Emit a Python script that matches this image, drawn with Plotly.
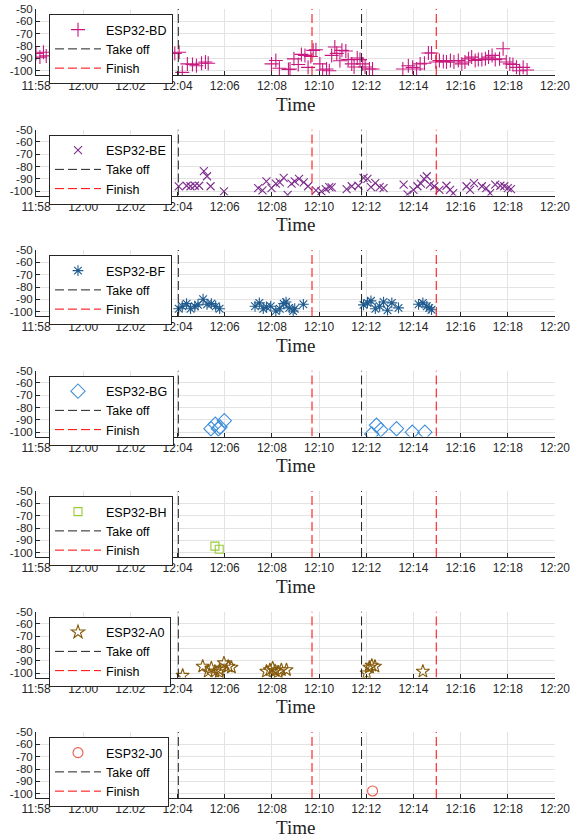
import plotly.graph_objects as go

DATE = "2023-05-10 "
T_START, T_END = "11:58:00", "12:20:00"
X_TICKS = ["11:58", "12:00", "12:02", "12:04", "12:06", "12:08", "12:10",
           "12:12", "12:14", "12:16", "12:18", "12:20"]
TAKEOFF_TIMES = ["12:04:02", "12:11:48"]
FINISH_TIMES = ["12:09:42", "12:14:58"]
Y_TICKS = [-100, -90, -80, -70, -60, -50]
Y_TICK_TEXT = ["-100", "-90", "-80", "-70", "-60", "-50"]
Y_MIN, Y_MAX = -103.5, -50

# ESP32-BD
bd_t = ["11:58:00", "11:58:10", "11:58:19", "11:58:26", "12:01:00",
        "12:03:53", "12:04:04", "12:04:12", "12:04:25", "12:04:38", "12:04:48",
        "12:05:01", "12:05:11", "12:05:18",
        "12:07:59", "12:08:10", "12:08:19", "12:08:42", "12:08:46", "12:08:56",
        "12:09:07", "12:09:15", "12:09:24", "12:09:32", "12:09:39", "12:09:45",
        "12:09:52", "12:10:02", "12:10:09", "12:10:19", "12:10:26", "12:10:32",
        "12:10:40", "12:10:45", "12:10:53", "12:10:58", "12:11:08", "12:11:14",
        "12:11:23", "12:11:29", "12:11:37", "12:11:44", "12:11:51", "12:11:57",
        "12:12:08", "12:12:16",
        "12:13:33", "12:13:47", "12:13:58", "12:14:08", "12:14:17", "12:14:28",
        "12:14:38", "12:14:46", "12:14:57", "12:15:06", "12:15:16", "12:15:24",
        "12:15:34", "12:15:43", "12:15:54", "12:16:03", "12:16:11", "12:16:20",
        "12:16:28", "12:16:37", "12:16:45", "12:16:54", "12:17:03", "12:17:11",
        "12:17:20", "12:17:28", "12:17:39", "12:17:48", "12:17:56", "12:18:05",
        "12:18:13", "12:18:22", "12:18:30", "12:18:39", "12:18:49"]
bd_v = [-86, -89, -85, -88, -102,
        -86, -85, -101.4, -94.5, -95, -96,
        -94, -93, -94,
        -94.5, -91.8, -98, -99, -98.6, -90.4,
        -95, -86.8, -87.6, -97.3, -88.5, -83.5,
        -83, -94.5, -99.4, -98.6, -100, -87.6,
        -80.8, -86, -92, -83.5, -84, -91,
        -94.5, -97, -89.7, -91, -94.5, -97,
        -98.6, -98.6,
        -98.6, -96, -97.3, -98.6, -94.5, -94,
        -85.7, -85.7, -93, -91.8, -92.6, -93,
        -91.8, -93, -91.8, -94.5, -93, -90.4,
        -89, -91.8, -91, -91, -90.4, -89,
        -87.6, -91, -90.4, -82.2, -93, -94.5,
        -95, -97.3, -100, -97.3, -99.4]

# ESP32-BE
be_t = ["12:04:03", "12:04:23", "12:04:33", "12:04:44", "12:04:55", "12:05:07",
        "12:05:15", "12:05:24", "12:05:58", "12:07:25", "12:07:36", "12:07:46",
        "12:07:59", "12:08:10", "12:08:20", "12:08:30", "12:08:40", "12:08:50",
        "12:08:58", "12:09:09", "12:09:21", "12:09:32", "12:09:52", "12:10:06",
        "12:10:17", "12:10:26", "12:10:32", "12:11:10", "12:11:23", "12:11:40",
        "12:11:53", "12:12:03", "12:12:12", "12:12:23", "12:12:34", "12:12:44",
        "12:13:35", "12:13:45", "12:14:00", "12:14:10", "12:14:19", "12:14:27",
        "12:14:34", "12:14:42", "12:14:53", "12:15:06", "12:15:24", "12:15:33",
        "12:15:41", "12:16:15", "12:16:24", "12:16:34", "12:16:54", "12:17:05",
        "12:17:15", "12:17:28", "12:17:41", "12:17:51", "12:18:00", "12:18:08"]
be_v = [-96.1, -95.6, -96, -95.6, -95.6, -83.8,
        -87.9, -96, -100.2, -97.5, -99.4, -92,
        -97.5, -93.9, -92.8, -89.3, -103, -93.9,
        -92, -90.1, -92.8, -96, -99.4, -100.2,
        -98.3, -96.8, -97, -98.3, -96, -95.6,
        -89.3, -90.1, -96.8, -93.4, -96.8, -97.5,
        -94.7, -102.5, -98.9, -96, -93.9, -90.1,
        -87.9, -94.7, -96, -98.9, -95.6, -98.9,
        -101.6, -96, -98.9, -93.4, -96, -97.5,
        -101.6, -94.7, -95.6, -96, -97.5, -98.3]

# ESP32-BF
bf_t = ["12:04:03", "12:04:12", "12:04:23", "12:04:33", "12:04:44", "12:04:52",
        "12:05:05", "12:05:15", "12:05:26", "12:05:37", "12:05:47",
        "12:07:17", "12:07:28", "12:07:38", "12:07:46", "12:07:57", "12:08:10",
        "12:08:20", "12:08:30", "12:08:36", "12:08:44", "12:08:54", "12:08:58",
        "12:09:20",
        "12:11:53", "12:12:03", "12:12:12", "12:12:23", "12:12:34", "12:12:44",
        "12:12:54", "12:13:05", "12:13:22",
        "12:14:13", "12:14:24", "12:14:34", "12:14:40", "12:14:46"]
bf_v = [-97.6, -95.6, -93.5, -97.6, -95.6, -94.5,
        -89.9, -94, -93.5, -95.6, -97.6,
        -95.6, -92.9, -97.6, -96.2, -95.6, -99.4,
        -97.6, -93.5, -92.2, -96.9, -99.4, -97.6,
        -94,
        -94.5, -92.9, -91.2, -97.6, -95.6, -92.2,
        -98.8, -92.9, -96.9,
        -94, -92.9, -95.6, -96.9, -98.4]

# ESP32-BG
bg_t = ["12:05:25", "12:05:36", "12:05:44", "12:05:48", "12:05:59",
        "12:12:14", "12:12:26", "12:12:37", "12:13:17", "12:13:57", "12:14:29"]
bg_v = [-97.2, -93.5, -97.2, -95.8, -90.7,
        -101.4, -94.4, -98, -97.2, -100, -100]

# ESP32-BH
bh_t = ["12:05:35", "12:05:46"]
bh_v = [-94.7, -97.2]

# ESP32-A0
a0_t = ["12:04:13", "12:05:04", "12:05:18", "12:05:26", "12:05:35", "12:05:46",
        "12:05:47", "12:05:58", "12:06:09", "12:06:17",
        "12:07:46", "12:07:55", "12:08:02", "12:08:08", "12:08:16", "12:08:24",
        "12:08:37",
        "12:12:01", "12:12:08", "12:12:14", "12:12:22", "12:14:24"]
a0_v = [-101.9, -94.5, -98.6, -95.9, -98.6, -99.2,
        -97.3, -91.8, -94.5, -95.3,
        -98.6, -97.3, -95.9, -98.1, -99.2, -97.3,
        -97.3,
        -100, -95.3, -93.7, -94.5, -98.6]

# ESP32-J0
j0_t = ["12:12:16"]
j0_v = [-97.8]

devices = [
    ("ESP32-BD", bd_t, bd_v, "cross-thin-open", "#C8187F", 10),
    ("ESP32-BE", be_t, be_v, "x-thin-open", "#7E2F8E", 8),
    ("ESP32-BF", bf_t, bf_v, "asterisk-open", "#1F5B8E", 9),
    ("ESP32-BG", bg_t, bg_v, "diamond-open", "#3F8FDB", 11),
    ("ESP32-BH", bh_t, bh_v, "square-open", "#99CC33", 8),
    ("ESP32-A0", a0_t, a0_v, "star-open", "#855A0A", 10),
    ("ESP32-J0", j0_t, j0_v, "circle-open", "#EB5A4A", 10),
]

W, H = 570, 839
TOP0, STEP, PH = 9, 120.5, 66
AX_COLOR = "#262626"
GRID = "#E3E3E3"
TICK_FONT = dict(family="Liberation Sans, Arial", size=12, color=AX_COLOR)
YTICK_FONT = dict(family="Liberation Sans, Arial", size=11.5, color=AX_COLOR)

def ts(t):
    return DATE + t

fig = go.Figure()
layout = dict(
    width=W, height=H, paper_bgcolor="white", plot_bgcolor="white",
    margin=dict(l=36, r=15, t=0, b=0, autoexpand=False), showlegend=True,
    annotations=[],
)

for i, (name, tt, vv, sym, col, sz) in enumerate(devices):
    k = i + 1
    xa = "x" if k == 1 else f"x{k}"
    ya = "y" if k == 1 else f"y{k}"
    lg = "legend" if k == 1 else f"legend{k}"
    top = TOP0 + i * STEP
    bot = top + PH

    fig.add_trace(go.Scatter(
        x=[ts(t) for t in tt], y=vv, mode="markers", name=name,
        xaxis=xa, yaxis=ya, legend=lg, cliponaxis=True,
        marker=dict(symbol=sym, size=sz, color=col, line=dict(color=col, width=1.1)),
    ))
    tx, ty = [], []
    for t in TAKEOFF_TIMES:
        tx += [ts(t), ts(t), None]
        ty += [Y_MIN, Y_MAX, None]
    fig.add_trace(go.Scatter(
        x=tx, y=ty, mode="lines", name="Take off", xaxis=xa, yaxis=ya, legend=lg,
        line=dict(color="#222222", width=1, dash="9px,4px"),
    ))
    fx, fy = [], []
    for t in FINISH_TIMES:
        fx += [ts(t), ts(t), None]
        fy += [Y_MIN, Y_MAX, None]
    fig.add_trace(go.Scatter(
        x=fx, y=fy, mode="lines", name="Finish", xaxis=xa, yaxis=ya, legend=lg,
        line=dict(color="#FF0000", width=1, dash="9px,4px"),
    ))

    xkey = "xaxis" if k == 1 else f"xaxis{k}"
    ykey = "yaxis" if k == 1 else f"yaxis{k}"
    layout[xkey] = dict(
        type="date", range=[ts(T_START), ts(T_END)], domain=[0, 1],
        anchor=ya, tickvals=[ts(t + ":00") for t in X_TICKS], ticktext=X_TICKS,
        showgrid=True, gridcolor=GRID, gridwidth=1,
        showline=True, linecolor=AX_COLOR, linewidth=1,
        ticks="inside", ticklen=4, tickcolor=AX_COLOR, tickfont=TICK_FONT,
        zeroline=False, fixedrange=True, automargin=False,
        ticklabeloverflow="allow",
    )
    layout[ykey] = dict(
        range=[Y_MIN, Y_MAX], domain=[1 - bot / H, 1 - top / H], anchor=xa,
        tickvals=Y_TICKS, ticktext=Y_TICK_TEXT,
        showgrid=True, gridcolor=GRID, gridwidth=1,
        showline=True, linecolor=AX_COLOR, linewidth=1,
        ticks="inside", ticklen=4, tickcolor=AX_COLOR, tickfont=YTICK_FONT,
        zeroline=False, fixedrange=True, automargin=False,
        ticklabeloverflow="allow",
    )
    layout[lg] = dict(
        x=(49 - 36) / (W - 36 - 15), xanchor="left",
        y=1 - (top + 5) / H, yanchor="top", xref="paper", yref="paper",
        bgcolor="white", bordercolor="#262626", borderwidth=1,
        font=dict(family="Liberation Sans, Arial", size=12.5, color="black"),
        itemwidth=46, tracegroupgap=0,
    )
    layout["annotations"].append(dict(
        text="Time", xref="paper", yref="paper", x=0.5, y=1 - (bot + 29) / H,
        xanchor="center", yanchor="middle", showarrow=False,
        font=dict(family="Liberation Serif, Times New Roman", size=19, color="#222222"),
    ))

fig.update_layout(**layout)
fig.write_html("out.html")
